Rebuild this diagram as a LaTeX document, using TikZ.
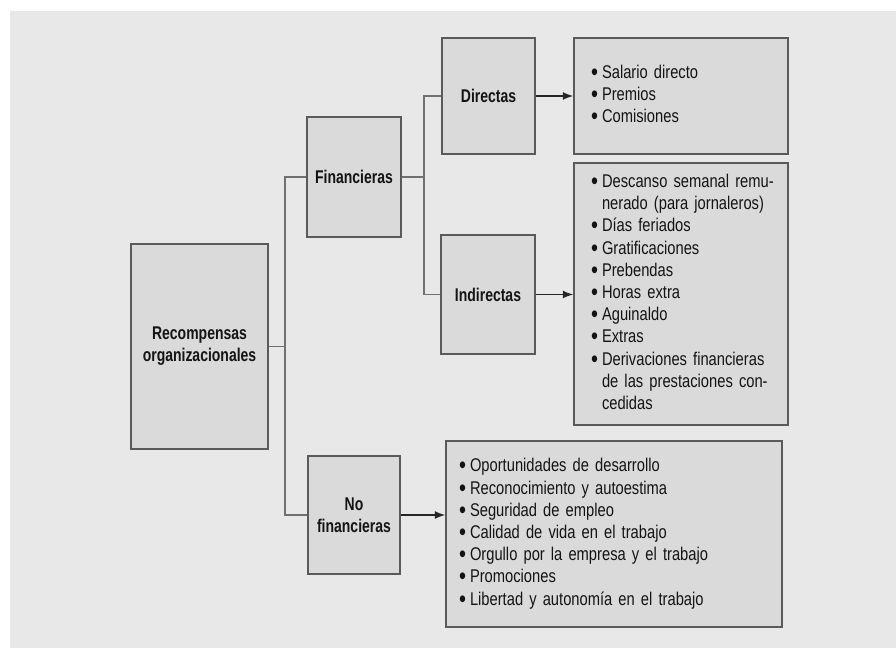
\documentclass[tikz,border=0pt]{standalone}
\usepackage{fontspec}
\usepackage{graphicx}
\setmainfont{Liberation Sans}[FakeStretch=0.8, BoldFeatures={FakeStretch=0.76}]
\definecolor{pagegray}{HTML}{E8E8E8}
\definecolor{boxfill}{HTML}{DADADA}
\definecolor{boxline}{HTML}{5A5A5A}
\definecolor{linkgray}{HTML}{707070}
\definecolor{inkgray}{HTML}{141414}
\newcommand{\itm}{\makebox[5.5pt][l]{\raisebox{-1pt}{\scalebox{1.35}{\textbullet}}}}
\newcommand{\cnt}{\hspace*{5.5pt}}
\begin{document}
\begin{tikzpicture}[
    x=0.5pt, y=-0.5pt, >=latex,
    font=\fontsize{9.2}{11.1}\selectfont, text=inkgray,
    catbox/.style={draw=boxline, fill=boxfill, line width=0.8pt,
                   align=center, inner sep=2pt,
                   font=\fontsize{9.2}{11}\selectfont\bfseries},
    listbox/.style={draw=boxline, fill=boxfill, line width=0.8pt,
                    align=left, inner ysep=0pt},
    link/.style={draw=linkgray, line width=0.8pt},
    arr/.style={->, draw=black!85, line width=0.8pt},
]
% page
\fill[white] (0,0) rectangle (896,648);
\fill[pagegray] (10,11) rectangle (896,648);

% left column
\node[catbox, minimum width=68.5pt, minimum height=102.5pt] (root) at (199.5,346.5)
    {Recompensas\\organizacionales};

% second column
\node[catbox, minimum width=47pt, minimum height=60pt] (fin) at (354,177) {Financieras};
\node[catbox, minimum width=46pt, minimum height=59pt] (nofin) at (354,515) {No\\financieras};

% third column
\node[catbox, minimum width=46.5pt, minimum height=58pt] (dir) at (488.5,96) {Directas};
\node[catbox, minimum width=47pt, minimum height=59.5pt] (ind) at (488,294.5) {Indirectas};

% lists
\node[listbox, inner xsep=8.5pt, text width=90pt, minimum height=58pt] (dirlist) at (681,96) {%
    \begin{tabular}{@{}l@{}}
    \itm Salario directo\\
    \itm Premios\\
    \itm Comisiones
    \end{tabular}};
\node[listbox, inner xsep=8.5pt, text width=90pt, minimum height=131pt] (indlist) at (681,294) {%
    \begin{tabular}{@{}l@{}}
    \itm Descanso semanal remu-\\
    \cnt nerado (para jornaleros)\\
    \itm Días feriados\\
    \itm Gratificaciones\\
    \itm Prebendas\\
    \itm Horas extra\\
    \itm Aguinaldo\\
    \itm Extras\\
    \itm Derivaciones financieras\\
    \cnt de las prestaciones con-\\
    \cnt cedidas
    \end{tabular}};
\node[listbox, inner xsep=6.5pt, text width=155pt, minimum height=93pt] (nflist) at (614,534) {%
    \begin{tabular}{@{}l@{}}
    \itm Oportunidades de desarrollo\\
    \itm Reconocimiento y autoestima\\
    \itm Seguridad de empleo\\
    \itm Calidad de vida en el trabajo\\
    \itm Orgullo por la empresa y el trabajo\\
    \itm Promociones\\
    \itm Libertad y autonomía en el trabajo
    \end{tabular}};

% branch points
\coordinate (j1) at (285,346.5);
\coordinate (j2) at (424,177);

% tree lines
\draw[link] (root.east) -- (j1);
\draw[link] (j1) |- (fin.west);
\draw[link] (j1) |- (nofin.west);
\draw[link] (fin.east) -- (j2);
\draw[link] (j2) |- (dir.west);
\draw[link] (j2) |- (ind.west);

% arrows into the lists
\draw[arr] (dir.east) -- (dirlist.west);
\draw[arr] (ind.east) -- (ind.east -| indlist.west);
\draw[arr] (nofin.east) -- (nofin.east -| nflist.west);
\end{tikzpicture}
\end{document}
